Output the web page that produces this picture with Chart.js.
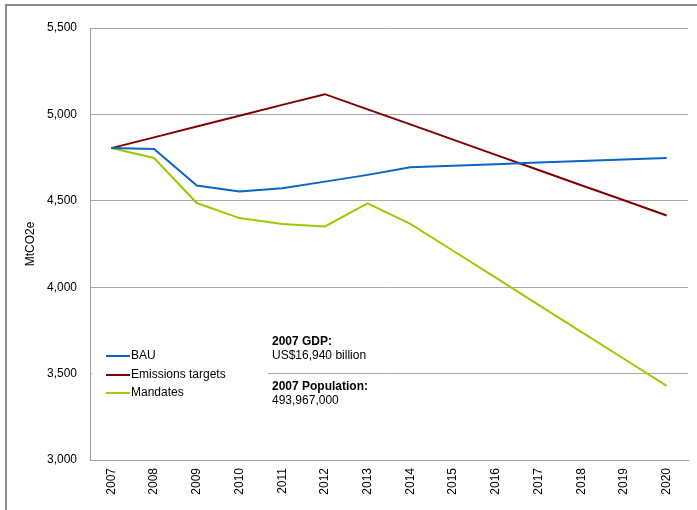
<!DOCTYPE html>
<html>
<head>
<meta charset="utf-8">
<script src="https://cdn.jsdelivr.net/npm/chart.js@4/dist/chart.umd.min.js"></script>
<style>
  html, body { margin: 0; padding: 0; background: #fff; }
  #wrap { position: relative; width: 697px; height: 510px; }
</style>
</head>
<body>
<div id="wrap"><canvas id="emissionsChart" width="697" height="510"></canvas></div>
<script>
// ============================================
// DATOS
// ============================================

const years = ['2007', '2008', '2009', '2010', '2011', '2012', '2013',
               '2014', '2015', '2016', '2017', '2018', '2019', '2020'];

const bau = [4805, 4800, 4588, 4554, 4573, 4611, 4650,
             4694, 4703, 4712, 4721, 4730, 4739, 4748];

const emissionsTargets = [4805, 4867, 4930, 4992, 5055, 5117, 5029,
                          4942, 4854, 4766, 4678, 4590, 4503, 4415];

const mandates = [4805, 4748, 4487, 4400, 4366, 4352, 4485,
                  4367, 4211, 4055, 3898, 3742, 3586, 3429];

const yTicks = [3000, 3500, 4000, 4500, 5000, 5500];

const infoLines = [
    { text: '2007 GDP:', bold: true },
    { text: 'US$16,940 billion', bold: false },
    { text: '2007 Population:', bold: true },
    { text: '493,967,000', bold: false }
];

const FONT = '"Liberation Sans", Arial, sans-serif';

// ============================================
// PLUGIN: marco, leyenda y cuadro de texto
// ============================================

const extrasPlugin = {
    id: 'extras',
    afterDraw(chart) {
        const ctx = chart.ctx;
        ctx.save();

        // marco exterior
        ctx.strokeStyle = '#8c8c8c';
        ctx.lineWidth = 2;
        ctx.beginPath();
        ctx.moveTo(6, 510);
        ctx.lineTo(6, 5);
        ctx.lineTo(697, 5);
        ctx.stroke();

        // fondo blanco de la leyenda (tapa la línea de 3,500)
        ctx.fillStyle = '#fff';
        ctx.fillRect(92, 340, 176, 66);

        // leyenda
        ctx.font = '12px ' + FONT;
        ctx.textBaseline = 'middle';
        ctx.textAlign = 'left';
        const legendY = [356, 375, 393];
        chart.data.datasets.forEach((ds, i) => {
            ctx.strokeStyle = ds.borderColor;
            ctx.lineWidth = 2;
            ctx.beginPath();
            ctx.moveTo(106, legendY[i]);
            ctx.lineTo(130, legendY[i]);
            ctx.stroke();
            ctx.fillStyle = '#000';
            ctx.fillText(ds.label, 131, legendY[i]);
        });

        // cuadro de datos
        const infoY = [342, 356, 387, 401];
        infoLines.forEach((line, i) => {
            ctx.font = (line.bold ? 'bold ' : '') + '12px ' + FONT;
            ctx.fillStyle = '#000';
            ctx.fillText(line.text, 272, infoY[i]);
        });

        ctx.restore();
    }
};

// ============================================
// GRÁFICO
// ============================================

const ctx = document.getElementById('emissionsChart').getContext('2d');
new Chart(ctx, {
    type: 'line',
    data: {
        labels: years,
        datasets: [
            { label: 'BAU', data: bau, borderColor: '#0a64c8' },
            { label: 'Emissions targets', data: emissionsTargets, borderColor: '#800000' },
            { label: 'Mandates', data: mandates, borderColor: '#99cc00' }
        ].map(ds => Object.assign(ds, {
            borderWidth: 2,
            pointRadius: 0,
            tension: 0,
            fill: false
        }))
    },
    options: {
        responsive: false,
        animation: false,
        layout: { padding: { left: 0, top: 28, right: 9, bottom: 0 } },
        plugins: {
            legend: { display: false },
            tooltip: { enabled: false }
        },
        scales: {
            x: {
                offset: true,
                grid: { display: false, drawTicks: false },
                border: { color: '#a0a0a0', width: 1 },
                ticks: {
                    color: '#000',
                    font: { family: FONT, size: 12 },
                    minRotation: 90,
                    maxRotation: 90,
                    padding: 8,
                    autoSkip: false
                },
                afterFit(scale) { scale.height = 50; }
            },
            y: {
                min: 3000,
                max: 5500,
                afterBuildTicks(scale) {
                    scale.ticks = yTicks.map(v => ({ value: v }));
                },
                grid: { color: '#a8a8a8', lineWidth: 1, drawTicks: false },
                border: { color: '#a0a0a0', width: 1 },
                ticks: {
                    color: '#000',
                    font: { family: FONT, size: 12 },
                    padding: 13,
                    callback: v => v.toLocaleString('en-US')
                },
                title: {
                    display: true,
                    text: 'MtCO2e',
                    color: '#000',
                    font: { family: FONT, size: 12 },
                    padding: { top: 23, bottom: 0 }
                },
                afterFit(scale) { scale.width = 90; }
            }
        }
    },
    plugins: [extrasPlugin]
});
</script>
</body>
</html>
